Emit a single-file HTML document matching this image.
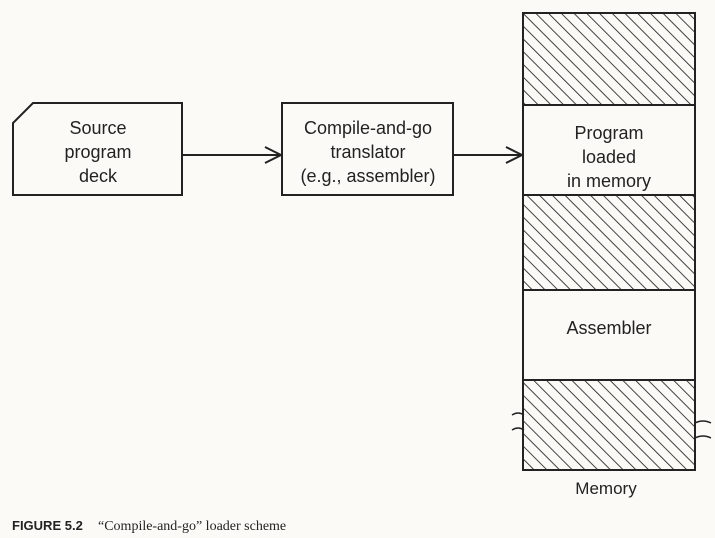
<!DOCTYPE html>
<html><head><meta charset="utf-8"><style>
html,body{margin:0;padding:0;background:#fbfaf6;}
svg{display:block}
text{font-family:"Liberation Sans",sans-serif;fill:#222}
</style></head><body>
<svg width="715" height="538" viewBox="0 0 715 538" xmlns="http://www.w3.org/2000/svg">
<defs>
<pattern id="h" patternUnits="userSpaceOnUse" width="9" height="9" patternTransform="rotate(-45)">
<rect width="9" height="9" fill="#fbfaf6"/>
<line x1="0" y1="0" x2="0" y2="9" stroke="#222" stroke-width="1.7"/>
</pattern>
</defs>
<g stroke="#222" stroke-width="2" fill="none">
<path d="M33,103 H182 V195 H13 V123 Z" fill="#fbfaf6"/>
<line x1="182" y1="155" x2="280" y2="155"/>
<path d="M265,147 L281,155 L265,163"/>
<rect x="282" y="103" width="171" height="92" fill="#fbfaf6"/>
<line x1="453" y1="155" x2="520" y2="155"/>
<path d="M506,147 L522,155 L506,163"/>
<rect x="523" y="13" width="172" height="92" fill="url(#h)"/>
<rect x="523" y="105" width="172" height="90" fill="#fbfaf6"/>
<rect x="523" y="195" width="172" height="95" fill="url(#h)"/>
<rect x="523" y="290" width="172" height="90" fill="#fbfaf6"/>
<rect x="523" y="380" width="172" height="90" fill="url(#h)"/>
<path d="M512,415 q6,-4 12,0" stroke-width="1.5"/>
<path d="M512,430 q6,-4 12,0" stroke-width="1.5"/>
<path d="M695,423 q8,-4 16,0" stroke-width="1.5"/>
<path d="M695,438 q8,-4 16,0" stroke-width="1.5"/>
</g>
<g font-size="18" text-anchor="middle">
<text x="98" y="134">Source</text>
<text x="98" y="158">program</text>
<text x="98" y="182">deck</text>
<text x="368" y="134">Compile-and-go</text>
<text x="368" y="158">translator</text>
<text x="368" y="182">(e.g., assembler)</text>
<text x="609" y="139">Program</text>
<text x="609" y="163">loaded</text>
<text x="609" y="187">in memory</text>
<text x="609" y="334">Assembler</text>
<text x="606" y="494" font-size="17">Memory</text>
</g>
<text x="12" y="530" font-size="13" style="font-family:'Liberation Sans',sans-serif;font-weight:bold">FIGURE 5.2</text>
<text x="98" y="530" font-size="14" style="font-family:'Liberation Serif',serif">“Compile-and-go” loader scheme</text>
</svg>
</body></html>
